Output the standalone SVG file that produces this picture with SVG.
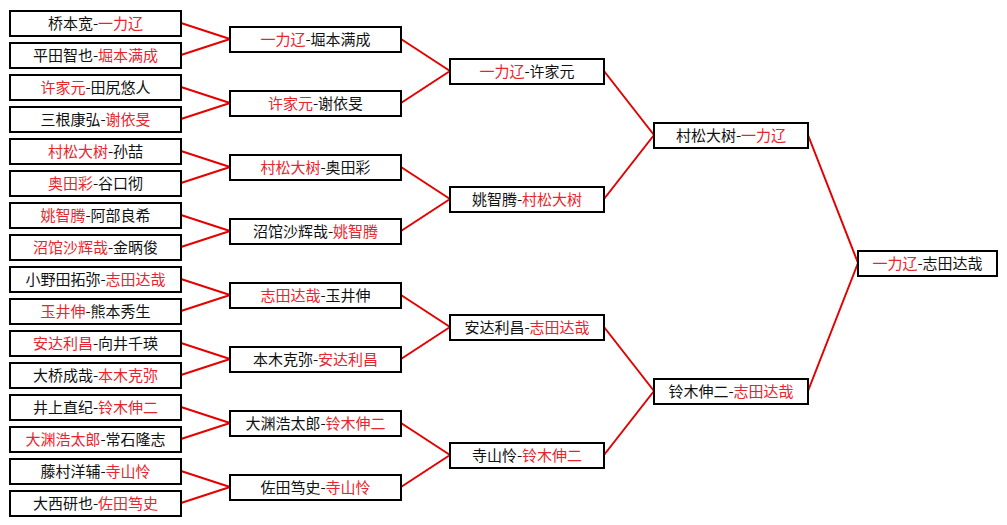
<svg xmlns="http://www.w3.org/2000/svg" width="1007" height="525" viewBox="0 0 1007 525">
<style>
.box{fill:#fff;stroke:#000;stroke-width:2}
.t{font-family:"Noto Sans CJK SC","Noto Sans",sans-serif;font-size:15px;fill:#111;text-anchor:middle}
.r{fill:#e8252d}
.ln{stroke:#e50000;stroke-width:2;fill:none}
</style>
<rect width="1007" height="525" fill="#fff"/>
<g id="connectors">
<path class="ln" d="M181 23L230 39M181 55L230 39M181 87L230 103M181 119L230 103M181 151L230 167M181 183L230 167M181 215L230 231M181 247L230 231M181 279L230 295M181 311L230 295M181 343L230 359M181 375L230 359M181 407L230 423M181 439L230 423M181 471L230 487M181 503L230 487"/>
<path class="ln" d="M401 39L450 71M401 103L450 71M401 167L450 199M401 231L450 199M401 295L450 327M401 359L450 327M401 423L450 455M401 487L450 455"/>
<path class="ln" d="M604 71L654 135M604 199L654 135M604 327L654 391M604 455L654 391"/>
<path class="ln" d="M808 135L858 263M808 391L858 263"/>
</g>
<g id="r1-1"><rect class="box" x="10" y="11" width="171" height="25"/><text class="t" x="95.5" y="28.5">桥本宽-<tspan class="r">一力辽</tspan></text></g>
<g id="r1-2"><rect class="box" x="10" y="43" width="171" height="25"/><text class="t" x="95.5" y="60.5">平田智也-<tspan class="r">堀本满成</tspan></text></g>
<g id="r1-3"><rect class="box" x="10" y="75" width="171" height="25"/><text class="t" x="95.5" y="92.5"><tspan class="r">许家元</tspan>-田尻悠人</text></g>
<g id="r1-4"><rect class="box" x="10" y="107" width="171" height="25"/><text class="t" x="95.5" y="124.5">三根康弘-<tspan class="r">谢依旻</tspan></text></g>
<g id="r1-5"><rect class="box" x="10" y="139" width="171" height="25"/><text class="t" x="95.5" y="156.5"><tspan class="r">村松大树</tspan>-孙喆</text></g>
<g id="r1-6"><rect class="box" x="10" y="171" width="171" height="25"/><text class="t" x="95.5" y="188.5"><tspan class="r">奥田彩</tspan>-谷口彻</text></g>
<g id="r1-7"><rect class="box" x="10" y="203" width="171" height="25"/><text class="t" x="95.5" y="220.5"><tspan class="r">姚智腾</tspan>-阿部良希</text></g>
<g id="r1-8"><rect class="box" x="10" y="235" width="171" height="25"/><text class="t" x="95.5" y="252.5"><tspan class="r">沼馆沙辉哉</tspan>-金昞俊</text></g>
<g id="r1-9"><rect class="box" x="10" y="267" width="171" height="25"/><text class="t" x="95.5" y="284.5">小野田拓弥-<tspan class="r">志田达哉</tspan></text></g>
<g id="r1-10"><rect class="box" x="10" y="299" width="171" height="25"/><text class="t" x="95.5" y="316.5"><tspan class="r">玉井伸</tspan>-熊本秀生</text></g>
<g id="r1-11"><rect class="box" x="10" y="331" width="171" height="25"/><text class="t" x="95.5" y="348.5"><tspan class="r">安达利昌</tspan>-向井千瑛</text></g>
<g id="r1-12"><rect class="box" x="10" y="363" width="171" height="25"/><text class="t" x="95.5" y="380.5">大桥成哉-<tspan class="r">本木克弥</tspan></text></g>
<g id="r1-13"><rect class="box" x="10" y="395" width="171" height="25"/><text class="t" x="95.5" y="412.5">井上直纪-<tspan class="r">铃木伸二</tspan></text></g>
<g id="r1-14"><rect class="box" x="10" y="427" width="171" height="25"/><text class="t" x="95.5" y="444.5"><tspan class="r">大渊浩太郎</tspan>-常石隆志</text></g>
<g id="r1-15"><rect class="box" x="10" y="459" width="171" height="25"/><text class="t" x="95.5" y="476.5">藤村洋辅-<tspan class="r">寺山怜</tspan></text></g>
<g id="r1-16"><rect class="box" x="10" y="491" width="171" height="25"/><text class="t" x="95.5" y="508.5">大西研也-<tspan class="r">佐田笃史</tspan></text></g>
<g id="r2-1"><rect class="box" x="230" y="27" width="171" height="25"/><text class="t" x="315.5" y="44.5"><tspan class="r">一力辽</tspan>-堀本满成</text></g>
<g id="r2-2"><rect class="box" x="230" y="91" width="171" height="25"/><text class="t" x="315.5" y="108.5"><tspan class="r">许家元</tspan>-谢依旻</text></g>
<g id="r2-3"><rect class="box" x="230" y="155" width="171" height="25"/><text class="t" x="315.5" y="172.5"><tspan class="r">村松大树</tspan>-奥田彩</text></g>
<g id="r2-4"><rect class="box" x="230" y="219" width="171" height="25"/><text class="t" x="315.5" y="236.5">沼馆沙辉哉-<tspan class="r">姚智腾</tspan></text></g>
<g id="r2-5"><rect class="box" x="230" y="283" width="171" height="25"/><text class="t" x="315.5" y="300.5"><tspan class="r">志田达哉</tspan>-玉井伸</text></g>
<g id="r2-6"><rect class="box" x="230" y="347" width="171" height="25"/><text class="t" x="315.5" y="364.5">本木克弥-<tspan class="r">安达利昌</tspan></text></g>
<g id="r2-7"><rect class="box" x="230" y="411" width="171" height="25"/><text class="t" x="315.5" y="428.5">大渊浩太郎-<tspan class="r">铃木伸二</tspan></text></g>
<g id="r2-8"><rect class="box" x="230" y="475" width="171" height="25"/><text class="t" x="315.5" y="492.5">佐田笃史-<tspan class="r">寺山怜</tspan></text></g>
<g id="r3-1"><rect class="box" x="450" y="59" width="154" height="25"/><text class="t" x="527" y="76.5"><tspan class="r">一力辽</tspan>-许家元</text></g>
<g id="r3-2"><rect class="box" x="450" y="187" width="154" height="25"/><text class="t" x="527" y="204.5">姚智腾-<tspan class="r">村松大树</tspan></text></g>
<g id="r3-3"><rect class="box" x="450" y="315" width="154" height="25"/><text class="t" x="527" y="332.5">安达利昌-<tspan class="r">志田达哉</tspan></text></g>
<g id="r3-4"><rect class="box" x="450" y="443" width="154" height="25"/><text class="t" x="527" y="460.5">寺山怜-<tspan class="r">铃木伸二</tspan></text></g>
<g id="r4-1"><rect class="box" x="654" y="123" width="154" height="25"/><text class="t" x="731" y="140.5">村松大树-<tspan class="r">一力辽</tspan></text></g>
<g id="r4-2"><rect class="box" x="654" y="379" width="154" height="25"/><text class="t" x="731" y="396.5">铃木伸二-<tspan class="r">志田达哉</tspan></text></g>
<g id="final"><rect class="box" x="858" y="251" width="139" height="25"/><text class="t" x="927.5" y="268.5"><tspan class="r">一力辽</tspan>-志田达哉</text></g>
</svg>
